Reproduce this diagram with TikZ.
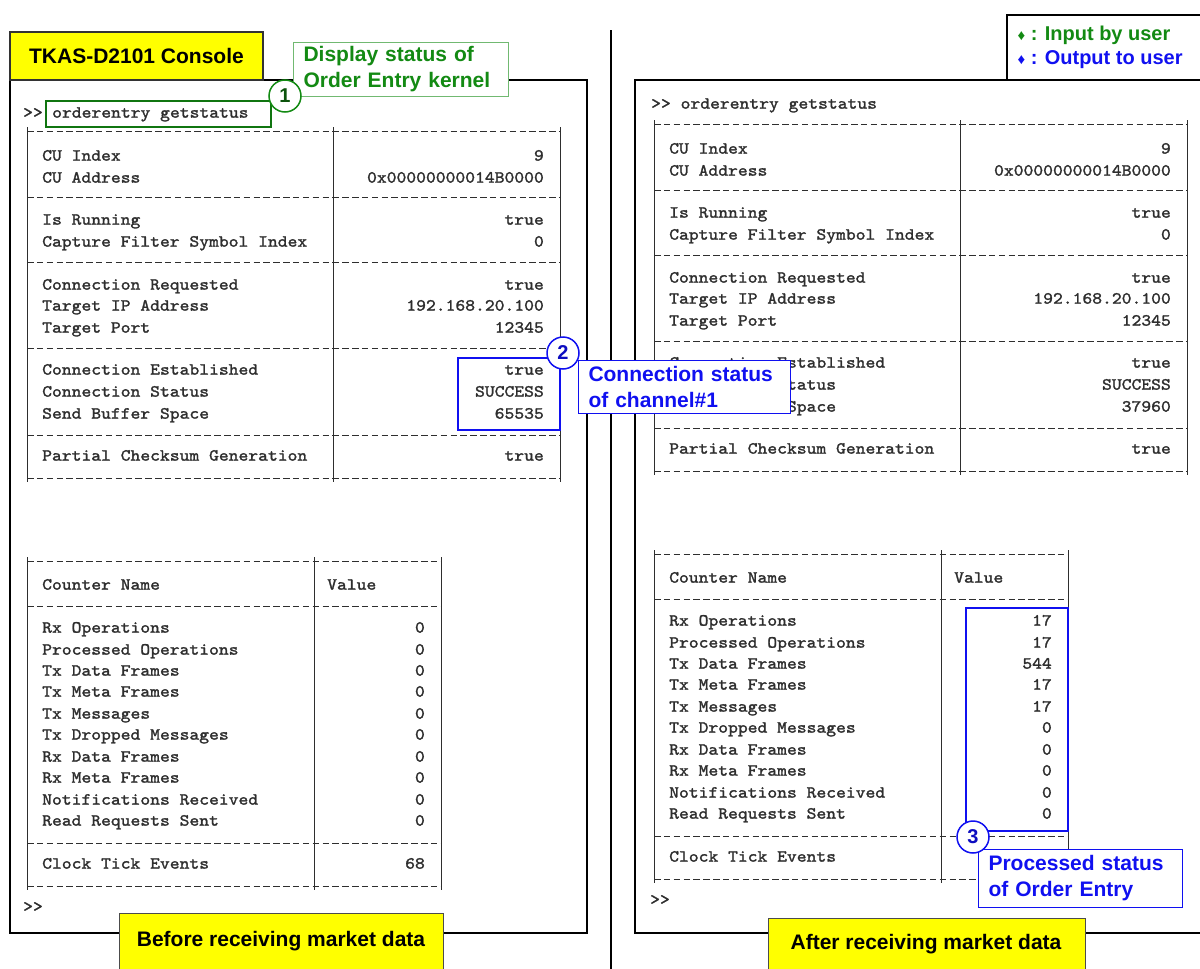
\documentclass[tikz,border=0pt]{standalone}
\usepackage{fontspec}
\setmainfont{Liberation Sans}
\newfontfamily\conmono{lmmono10-regular.otf}[FakeStretch=1.1,FakeBold=1.6]
\definecolor{ygold}{HTML}{FFFF00}
\definecolor{ugreen}{HTML}{138A13}
\definecolor{ublue}{HTML}{1010F0}
\definecolor{tgray}{HTML}{2E2E2E}

\begin{document}
\begin{tikzpicture}[x=1pt,y=-1pt,
  con/.style={font=\conmono\fontsize{17}{20}\selectfont, text=tgray, inner sep=0pt, yshift=-2pt},
  lab/.style={con, anchor=mid west},
  val/.style={con, anchor=mid east},
  rule/.style={tgray, line width=1pt, dash pattern=on 6.5pt off 3.35pt},
  bar/.style={tgray, line width=1pt},
  frame/.style={line width=2.5pt},
  hilite/.style={line width=2.5pt},
  big/.style={font=\fontsize{21}{26}\selectfont\bfseries},
  note/.style={big, draw, fill=white, line width=1pt, align=left, inner xsep=10pt, inner ysep=4pt, anchor=north west},
  num/.style={circle, draw, fill=white, line width=1.5pt, minimum size=32pt, inner sep=0pt, font=\fontsize{20}{20}\selectfont\bfseries}
]
\useasboundingbox (0,0) rectangle (1200,969);

% panels
\draw[frame] (10,80) rectangle (587,933);
\draw[frame] (611,30) -- (611,969);
\draw[frame] (1205,80) -- (635,80) -- (635,933) -- (1205,933);

% legend
\draw[line width=1.2pt] (1007,80) -- (1007,15) -- (1205,15);
\node[text=ugreen, anchor=west, font=\fontsize{20}{24}\selectfont\bfseries] (inp) at (1014,35) {{\fontsize{15}{15}\selectfont ♦} : Input by user};
\node[text=ublue, anchor=west, font=\fontsize{20}{24}\selectfont\bfseries] (outp) at (1014,60) {{\fontsize{15}{15}\selectfont ♦} : Output to user};

% title
\node[draw=black!80, line width=1.5pt, fill=ygold, big, minimum width=253pt, minimum height=48pt] (title) at (136.5,56) {TKAS-D2101 Console};

% console contents, before and after
\foreach \dx/\dy in {0/0, 627/-7}{
\begin{scope}[shift={(\dx,\dy)}]
  % status table
  \foreach \y in {131,197,262,348,435,478}
    \draw[rule] (27,\y) -- (560,\y);
  \foreach \x in {27,333,560}
    \draw[bar] (\x,127) -- (\x,482);
  \foreach \y/\t in {156/CU Index, 178/CU Address, 220/Is Running, 242/Capture Filter Symbol Index,
      285/Connection Requested, 306/Target IP Address, 328/Target Port,
      370/Connection Established, 392/Connection Status, 414/Send Buffer Space,
      456/Partial Checksum Generation}
    \node[lab] (sl\y) at (42,\y) {\t};
  \foreach \y/\t in {156/9, 178/0x00000000014B0000, 220/true, 242/0, 285/true,
      306/192.168.20.100, 328/12345, 370/true, 392/SUCCESS, 456/true}
    \node[val] (sv\y) at (544,\y) {\t};

  % counter table
  \foreach \y in {561,606,843,886}
    \draw[rule] (27,\y) -- (441,\y);
  \foreach \x in {27,314,441}
    \draw[bar] (\x,557) -- (\x,890);
  \node[lab] (hname) at (42,585) {Counter Name};
  \node[lab] (hval) at (327,585) {Value};
  \foreach \y/\t in {628/Rx Operations, 650/Processed Operations, 671/Tx Data Frames,
      692/Tx Meta Frames, 714/Tx Messages, 735/Tx Dropped Messages, 757/Rx Data Frames,
      778/Rx Meta Frames, 800/Notifications Received, 821/Read Requests Sent}
    \node[lab] (cl\y) at (42,\y) {\t};
  \node[lab] (clk) at (42,864) {Clock Tick Events};
  \node[lab] (prompt) at (23,907) {>>};
\end{scope}
}

% before
\node[lab] (p1) at (23,113) {>>};
\node[draw=ugreen!85!black, line width=2pt, anchor=west, minimum width=225pt, minimum height=26pt] (cmd) at (45,114) {};
\node[lab] (cmdt) at (52,113) {orderentry getstatus};
\node[val] (buf1) at (544,414) {65535};
\foreach \y in {628,650,671,692,714,735,757,778,800,821}
  \node[val] (cv\y) at (425,\y) {0};
\node[val] (clkv) at (425,864) {68};

% after
\node[lab] (p2) at (651,104) {>> orderentry getstatus};
\begin{scope}[shift={(627,-7)}]
  \node[val] (buf2) at (544,414) {37960};
  \foreach \y/\v in {628/17,650/17,671/544,692/17,714/17,735/0,757/0,778/0,800/0,821/0}
    \node[val] (cw\y) at (425,\y) {\v};
\end{scope}

% highlights
\draw[ublue, hilite] (458,358) rectangle (560,430);
\draw[ublue, hilite] (966,608) rectangle (1068,831);

% notes
\node[note, draw=ugreen!60, text=ugreen, text width=195pt] (n1) at (293,42) {Display status of\\Order Entry kernel};
\node[num, draw=ugreen, text=ugreen!60!black] (c1) at (285,96) {1};
\node[note, draw=ublue, text=ublue, text width=192pt, inner ysep=6pt] (n2) at (578,360) {Connection status\\of channel\#1};
\node[num, draw=ublue, text=ublue!80!black] (c2) at (563,353) {2};
\node[note, draw=ublue, text=ublue, text width=184pt, inner ysep=6pt] (n3) at (978,849) {Processed status\\of Order Entry};
\node[num, draw=ublue, text=ublue!80!black] (c3) at (973,837) {3};

% captions
\filldraw[fill=ygold, draw=black!70, line width=1pt] (119,913) rectangle (443,975);
\node[big] (before) at (281,941) {Before receiving market data};
\filldraw[fill=ygold, draw=black!70, line width=1pt] (768,918) rectangle (1085,975);
\node[big] (after) at (926,944) {After receiving market data};
\end{tikzpicture}
\end{document}
